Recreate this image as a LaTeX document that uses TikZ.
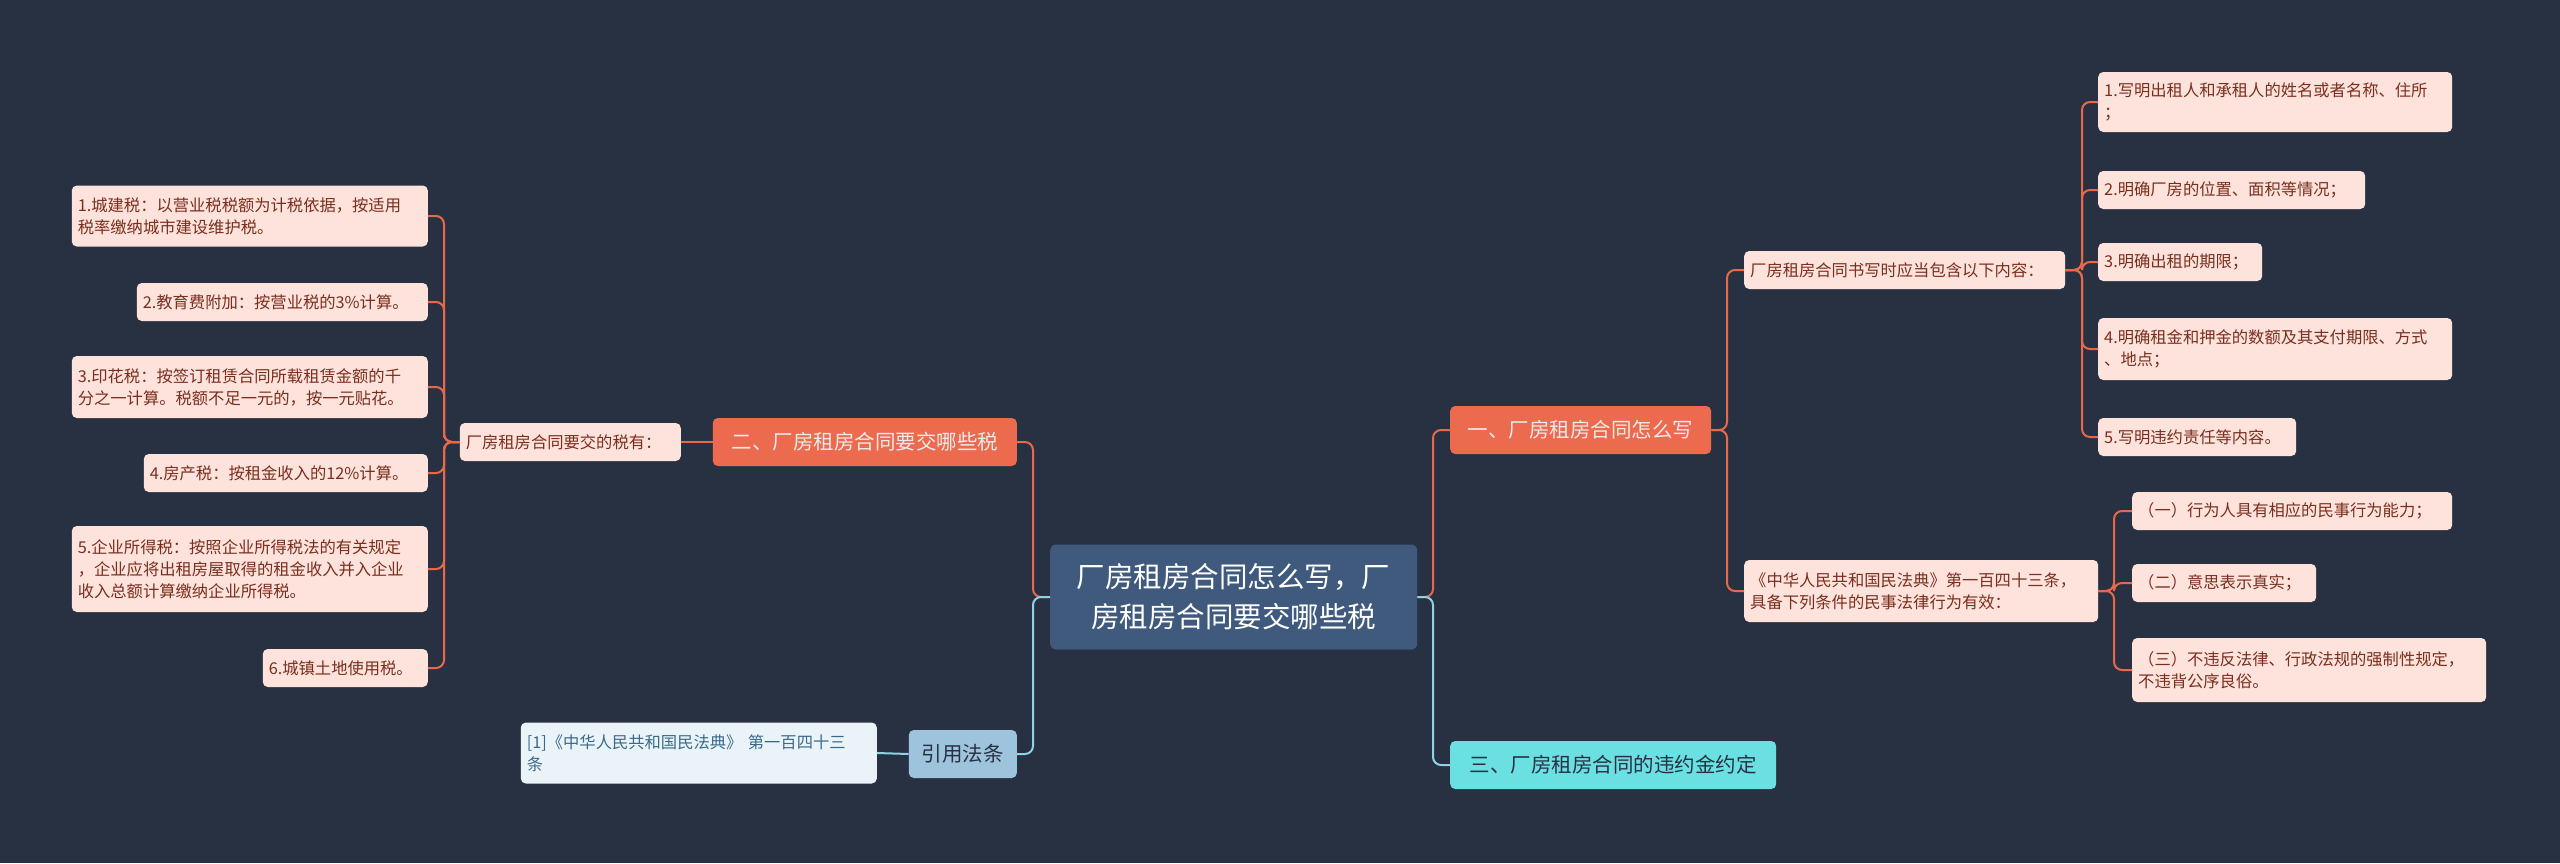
\documentclass[tikz,border=0pt]{standalone}
\usepackage{fontspec}
\setmainfont{Noto Sans CJK SC}
\begin{document}
\begin{tikzpicture}[x=1pt,y=-1pt,
  leaf/.style={draw=none,fill=leaffill,text=leaftext,rounded corners=5pt,font=\fontsize{16.3}{22}\selectfont,align=left,inner xsep=6pt,inner ysep=5pt,anchor=west,minimum height=38pt,text width=#1},
  branch/.style={fill=branchfill,text=white!92!black,rounded corners=5pt,font=\fontsize{20.5}{26}\selectfont,inner sep=6pt,anchor=west,minimum height=48pt},
  oline/.style={draw=linecol,line width=2pt,rounded corners=8pt},
  bline/.style={draw=bluecol,line width=2pt,rounded corners=8pt}]
\definecolor{bg}{HTML}{283142}
\definecolor{leaffill}{HTML}{FDE3DB}
\definecolor{leaftext}{HTML}{7A2E1E}
\definecolor{linecol}{HTML}{E8694A}
\definecolor{branchfill}{HTML}{EC6A4D}
\definecolor{centerfill}{HTML}{3F5A7D}
\definecolor{bluecol}{HTML}{8ED2E6}
\definecolor{reffill}{HTML}{9DC4DC}
\definecolor{refleaf}{HTML}{EAF4F8}
\definecolor{reftext}{HTML}{3A6A8A}
\definecolor{cyanfill}{HTML}{6BE0E3}
\useasboundingbox[fill=bg] (0,0) rectangle (2560,863);
% center
\node[fill=centerfill,text=white,rounded corners=6pt,font=\fontsize{28.5}{40}\selectfont,align=center,minimum width=367pt,minimum height=105pt,anchor=west] (c) at (1050,597) {厂房租房合同怎么写，厂\\房租房合同要交哪些税};
% branches
\node[branch,minimum width=261pt] (b1) at (1450,430) {一、厂房租房合同怎么写};
\node[branch,minimum width=304pt,anchor=east] (b2) at (1017,442) {二、厂房租房合同要交哪些税};
\node[branch,fill=reffill,text=bg,minimum width=108pt,anchor=east] (b3) at (1017,754) {引用法条};
\node[branch,fill=cyanfill,text=bg,minimum width=326pt] (b4) at (1450,765) {三、厂房租房合同的违约金约定};
% left subtree
\node[leaf=209pt,anchor=east] (t) at (681,442) {厂房租房合同要交的税有：};
\node[leaf=344pt,anchor=east,minimum height=61pt] (l1) at (428,216) {1.城建税：以营业税税额为计税依据，按适用\\税率缴纳城市建设维护税。};
\node[leaf=279pt,anchor=east] (l2) at (428,302) {2.教育费附加：按营业税的3\%计算。};
\node[leaf=344pt,anchor=east,minimum height=62pt] (l3) at (428,387) {3.印花税：按签订租赁合同所载租赁金额的千\\分之一计算。税额不足一元的，按一元贴花。};
\node[leaf=272pt,anchor=east] (l4) at (428,473) {4.房产税：按租金收入的12\%计算。};
\node[leaf=344pt,anchor=east,minimum height=86pt] (l5) at (428,569) {5.企业所得税：按照企业所得税法的有关规定\\，企业应将出租房屋取得的租金收入并入企业\\收入总额计算缴纳企业所得税。};
\node[leaf=153pt,anchor=east] (l6) at (428,668) {6.城镇土地使用税。};
\node[leaf=344pt,fill=refleaf,text=reftext,anchor=east,minimum height=61pt] (r) at (877,753) {[1]《中华人民共和国民法典》 第一百四十三\\条};
% right subtree
\node[leaf=309pt] (s1) at (1744,270) {厂房租房合同书写时应当包含以下内容：};
\node[leaf=342pt,minimum height=62pt] (s2) at (1744,591) {《中华人民共和国民法典》第一百四十三条，\\具备下列条件的民事法律行为有效：};
\node[leaf=342pt,minimum height=60pt] (k1) at (2098,102) {1.写明出租人和承租人的姓名或者名称、住所\\；};
\node[leaf=255pt] (k2) at (2098,190) {2.明确厂房的位置、面积等情况；};
\node[leaf=152pt] (k3) at (2098,262) {3.明确出租的期限；};
\node[leaf=186pt] (k4b) at (2098,437) {5.写明违约责任等内容。};
\node[leaf=342pt,minimum height=62pt] (k4) at (2098,349) {4.明确租金和押金的数额及其支付期限、方式\\、地点；};
\node[leaf=308pt] (m1) at (2132,511) {（一）行为人具有相应的民事行为能力；};
\node[leaf=172pt] (m2) at (2132,583) {（二）意思表示真实；};
\node[leaf=342pt,minimum height=64pt] (m3) at (2132,670) {（三）不违反法律、行政法规的强制性规定，\\不违背公序良俗。};
% connectors
\draw[oline] (c.east) -- (1433,597) |- (b1.west);
\draw[bline] (c.east) -- (1433,597) |- (b4.west);
\draw[oline] (c.west) -- (1033,597) |- (b2.east);
\draw[bline] (c.west) -- (1033,597) |- (b3.east);
\draw[oline] (b2.west) -- (t.east);
\draw[bline] (b3.west) -- (r.east);
\foreach \n in {l1,l2,l3,l4,l5,l6} \draw[oline] (t.west) -- (444,442) |- (\n.east);
\foreach \n in {s1,s2} \draw[oline] (b1.east) -- (1727,430) |- (\n.west);
\foreach \n in {k1,k2,k3,k4,k4b} \draw[oline] (s1.east) -- (2082,270) |- (\n.west);
\foreach \n in {m1,m2,m3} \draw[oline] (s2.east) -- (2114,591) |- (\n.west);
\end{tikzpicture}
\end{document}
